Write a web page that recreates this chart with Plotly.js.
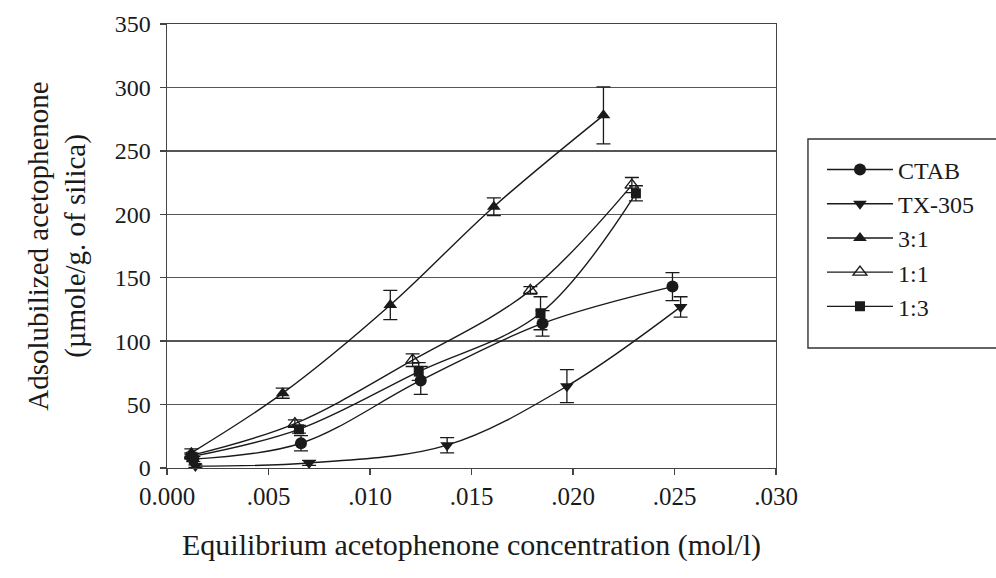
<!DOCTYPE html>
<html>
<head>
<meta charset="utf-8">
<script src="https://cdn.plot.ly/plotly-3.0.1.min.js"></script>
<style>html,body{margin:0;padding:0;background:#fff;}#chart{width:996px;height:578px;}</style>
</head>
<body>
<div id="chart"></div>
<script>
// Data
const seriesNames = ["CTAB", "TX-305", "3:1", "1:1", "1:3"];

const ctabX = [0.0013, 0.0066, 0.0125, 0.0185, 0.0249];
const ctabY = [7, 19.5, 69, 114, 143];
const ctabErr = [2, 6, 11, 10, 11];

const txX = [0.0014, 0.0070, 0.0138, 0.0197, 0.0253];
const txY = [1.5, 4, 18, 64.5, 127];
const txErr = [1, 2, 6, 13, 8];

const s31X = [0.0012, 0.0057, 0.0110, 0.0161, 0.0215];
const s31Y = [12, 59, 128.5, 206, 278];
const s31Err = [3, 4, 11.5, 7, 22.5];

const s11X = [0.0012, 0.0063, 0.0121, 0.0179, 0.0229];
const s11Y = [10, 35, 85, 140, 223];
const s11Err = [2, 3, 5, 3, 6];

const s13X = [0.0012, 0.0065, 0.0124, 0.0184, 0.0231];
const s13Y = [9, 30.5, 76, 122, 216.5];
const s13Err = [2, 3, 7, 13, 6];

const xTickVals = [0, 0.005, 0.010, 0.015, 0.020, 0.025, 0.030];
const xTickText = ["0.000", ".005", ".010", ".015", ".020", ".025", ".030"];
const yTickVals = [0, 50, 100, 150, 200, 250, 300, 350];

const ink = "#1a1a1a";
const symbols = ["circle", "triangle-down", "triangle-up", "triangle-up-open", "square"];
const xs = [ctabX, txX, s31X, s11X, s13X];
const ys = [ctabY, txY, s31Y, s11Y, s13Y];
const errs = [ctabErr, txErr, s31Err, s11Err, s13Err];

const traces = seriesNames.map((name, i) => ({
  type: "scatter",
  mode: "lines+markers",
  name: name,
  legendgroup: "g" + i,
  x: xs[i],
  y: ys[i],
  line: {color: ink, width: 1.4, shape: "spline", smoothing: 1},
  marker: {symbol: symbols[i], size: symbols[i] === "square" ? 10 : 12, color: ink,
           line: {color: ink, width: symbols[i].endsWith("open") ? 1.4 : 0}},
  error_y: {type: "data", array: errs[i], visible: true, color: ink, thickness: 1.3, width: 7},
  cliponaxis: false
}));

const serif = "Liberation Serif";

const layout = {
  width: 996, height: 578,
  margin: {l: 167, r: 220, t: 24, b: 110, autoexpand: false},
  paper_bgcolor: "#fff", plot_bgcolor: "#fff",
  font: {family: serif, color: ink, size: 22},
  showlegend: true,
  legend: {
    x: 1.0755, xanchor: "left", y: 0.722, yanchor: "top",
    bgcolor: "rgba(0,0,0,0)", borderwidth: 0,
    font: {family: serif, size: 24, color: ink},
    tracegroupgap: 6, itemwidth: 66,
    traceorder: "normal"
  },
  shapes: [{
    type: "rect", xref: "paper", yref: "paper",
    x0: 1.0525, x1: 1.37, y0: 0.2703, y1: 0.741,
    line: {color: "#333", width: 1.4}, fillcolor: "rgba(0,0,0,0)", layer: "above"
  }],
  xaxis: {
    range: [0, 0.030], tickvals: xTickVals, ticktext: xTickText,
    showgrid: false, zeroline: false,
    showline: true, linecolor: "#444", linewidth: 1.4, mirror: true,
    ticks: "outside", ticklen: 6, tickcolor: "#444", tickwidth: 1.4,
    tickfont: {family: serif, size: 25, color: ink},
    title: {text: "Equilibrium acetophenone concentration (mol/l)", font: {family: serif, size: 30, color: ink}, standoff: 24}
  },
  yaxis: {
    range: [0, 350], tickvals: yTickVals,
    showgrid: true, gridcolor: "#555", gridwidth: 1.5, zeroline: false,
    showline: true, linecolor: "#444", linewidth: 1.4, mirror: true,
    ticks: "outside", ticklen: 6, tickcolor: "#444", tickwidth: 1.4,
    ticklabelstandoff: 4,
    tickfont: {family: serif, size: 24, color: ink},
    title: {text: "Adsolubilized acetophenone<br>(µmole/g. of silica)", font: {family: serif, size: 29, color: ink}, standoff: 20}
  }
};

Plotly.newPlot("chart", traces, layout, {displayModeBar: false, staticPlot: true});
</script>
</body>
</html>
